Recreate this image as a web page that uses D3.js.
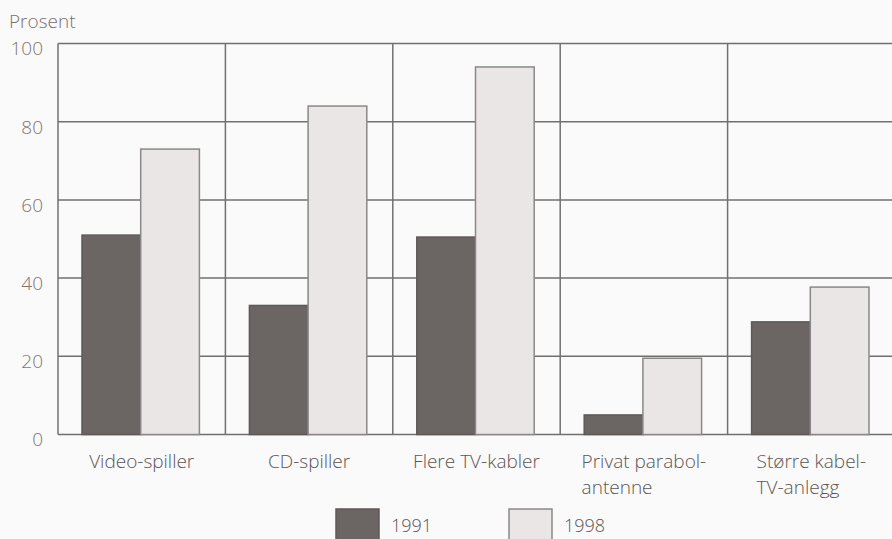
<!DOCTYPE html>
<html><head><meta charset="utf-8">
<script src="https://cdn.jsdelivr.net/npm/d3@7"></script>
<style>
html,body{margin:0;padding:0;background:#fafafa;}
svg{display:block;font-family:"Open Sans",sans-serif;font-weight:300;}
</style></head>
<body>
<svg id="chart" width="892" height="539"></svg>
<script>
const categories = [["Video-spiller"],["CD-spiller"],["Flere TV-kabler"],["Privat parabol-","antenne"],["Større kabel-","TV-anlegg"]];
const series = ["1991","1998"];
const values1991 = [51, 33, 50.5, 5, 28.8];
const values1998 = [73, 84, 94, 19.5, 37.7];
const yTicks = [0,20,40,60,80,100];
const yTitle = "Prosent";

(function(){
const colors = {"1991":"#6b6664","1998":"#ebe6e6"};
const svg = d3.select("#chart");
const W = 892, H = 539;
const mLeft = 58, mTop = 43.5, mBottom = 434.5, mRight = 895;
const fs = 19;

const x = d3.scaleBand().domain(d3.range(categories.length)).range([mLeft, mRight]);
const y = d3.scaleLinear().domain([0,100]).range([mBottom, mTop]);
const inner = d3.scaleBand().domain(series).range([24, x.bandwidth()-26]);

const gridColor = "#707070";
svg.append("g").selectAll("line").data(yTicks).join("line")
  .attr("x1", mLeft).attr("x2", W).attr("y1", d=>y(d)).attr("y2", d=>y(d))
  .attr("stroke", gridColor).attr("stroke-width", 1.5);
svg.append("g").selectAll("line").data(d3.range(categories.length)).join("line")
  .attr("x1", d=>x(d)).attr("x2", d=>x(d)).attr("y1", mTop).attr("y2", mBottom)
  .attr("stroke", gridColor).attr("stroke-width", 1.5);

const data = [];
categories.forEach((c,i)=>{
  data.push({i, s:"1991", v:values1991[i]});
  data.push({i, s:"1998", v:values1998[i]});
});
svg.append("g").selectAll("rect").data(data).join("rect")
  .attr("x", d=>x(d.i)+inner(d.s))
  .attr("width", inner.bandwidth())
  .attr("y", d=>y(d.v))
  .attr("height", d=>y(0)-y(d.v))
  .attr("fill", d=>colors[d.s])
  .attr("stroke", d=> d.s==="1991" ? "#5e5a58" : "#8a8888")
  .attr("stroke-width", 1.5);

const yAxis = d3.axisLeft(y).tickValues(yTicks).tickSize(0).tickPadding(0);
const ga = svg.append("g").attr("transform", "translate(43,0)").call(yAxis);
ga.select(".domain").remove();
ga.selectAll("text").attr("font-size", fs).attr("font-family","Open Sans, sans-serif")
  .attr("font-weight",300).attr("fill","#85746f").attr("dy","0.6em");

svg.append("text").attr("x", 9).attr("y", 28).text(yTitle)
  .attr("font-size", fs).attr("fill","#7a706c");

categories.forEach((lines,i)=>{
  const g = svg.append("g");
  const ts = lines.map((l,k)=> g.append("text").text(l).attr("y", 468 + k*25.5)
    .attr("font-size", fs).attr("fill","#5a5555"));
  const w = d3.max(ts, t=>t.node().getComputedTextLength());
  const cx = x(i) + x.bandwidth()/2;
  ts.forEach(t=>t.attr("x", cx - w/2));
});

const legX = [336, 509];
series.forEach((s,k)=>{
  svg.append("rect").attr("x", legX[k]).attr("y", 509).attr("width", 43).attr("height", 40)
    .attr("fill", colors[s]).attr("stroke", s==="1991" ? "#5e5a58" : "#8a8888").attr("stroke-width",1.5);
  svg.append("text").attr("x", legX[k]+55).attr("y", 532).text(s)
    .attr("font-size", 18).attr("fill","#5a5555");
});
})();
</script>
</body></html>
